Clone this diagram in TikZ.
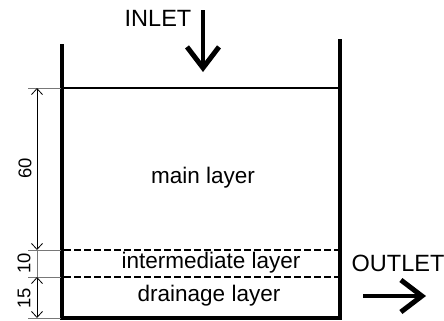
\documentclass[tikz,border=0pt]{standalone}
\usepackage{fontspec}
\setmainfont{Liberation Sans}
\usetikzlibrary{arrows.meta}
\definecolor{dimgray}{RGB}{120,120,120}

\begin{document}
\begin{tikzpicture}[x=1bp,y=-1bp,
  wall/.style={line width=3.4bp},
  bigarrow/.style={line width=4.6bp,-{Straight Barb[length=21bp,width=32bp,line width=5bp]}},
  dimarrow/.style={line width=0.8bp,{Straight Barb[length=6bp,width=11bp]}-{Straight Barb[length=6bp,width=11bp]}},
  layertext/.style={font=\fontsize{22.6}{26}\selectfont,inner sep=0pt},
  flowtext/.style={font=\fontsize{23.6}{27}\selectfont,inner sep=0pt},
  dimtext/.style={font=\fontsize{18.5}{21}\selectfont,inner sep=0pt,rotate=90}]
  \useasboundingbox (0,0) rectangle (444,320);

  % tank
  \draw[wall] (62,44) -- (62,318) -- (340,318) -- (340,39);
  \draw[line width=1.3bp] (63,88) -- (339,88);
  \foreach \y in {250,277}
    \draw[line width=1.3bp,dash pattern=on 6.5bp off 3.5bp] (64,\y) -- (338,\y);

  % layers
  \node[layertext] (main) at (203,178) {main layer};
  \node[layertext] (inter) at (211,263) {intermediate layer};
  \node[layertext] (drain) at (209,296) {drainage layer};

  % dimensions
  \foreach \y/\name in {88/d0,250/d1,277/d2,318/d3}{
    \draw[dimgray,line width=0.8bp] (28,\y) -- (61,\y);
    \coordinate (\name) at (37,\y);
  }
  \draw[dimarrow] (d0) -- (d1);
  \draw[dimgray,line width=0.8bp] (d1) -- (d2);
  \draw[dimarrow] (d2) -- (d3);
  \node[dimtext] (h60) at (25,168) {60};
  \node[dimtext] (h10) at (24,263) {10};
  \node[dimtext] (h15) at (24,298) {15};

  % inlet and outlet
  \node[flowtext] (inlet) at (158,18) {INLET};
  \coordinate (inTop) at (203,10);
  \coordinate (inTip) at (203,72);
  \draw[bigarrow] (inTop) -- (inTip);
  \node[flowtext] (outlet) at (398,263) {OUTLET};
  \coordinate (outStart) at (363,296);
  \coordinate (outTip) at (426,296);
  \draw[bigarrow] (outStart) -- (outTip);
\end{tikzpicture}
\end{document}
